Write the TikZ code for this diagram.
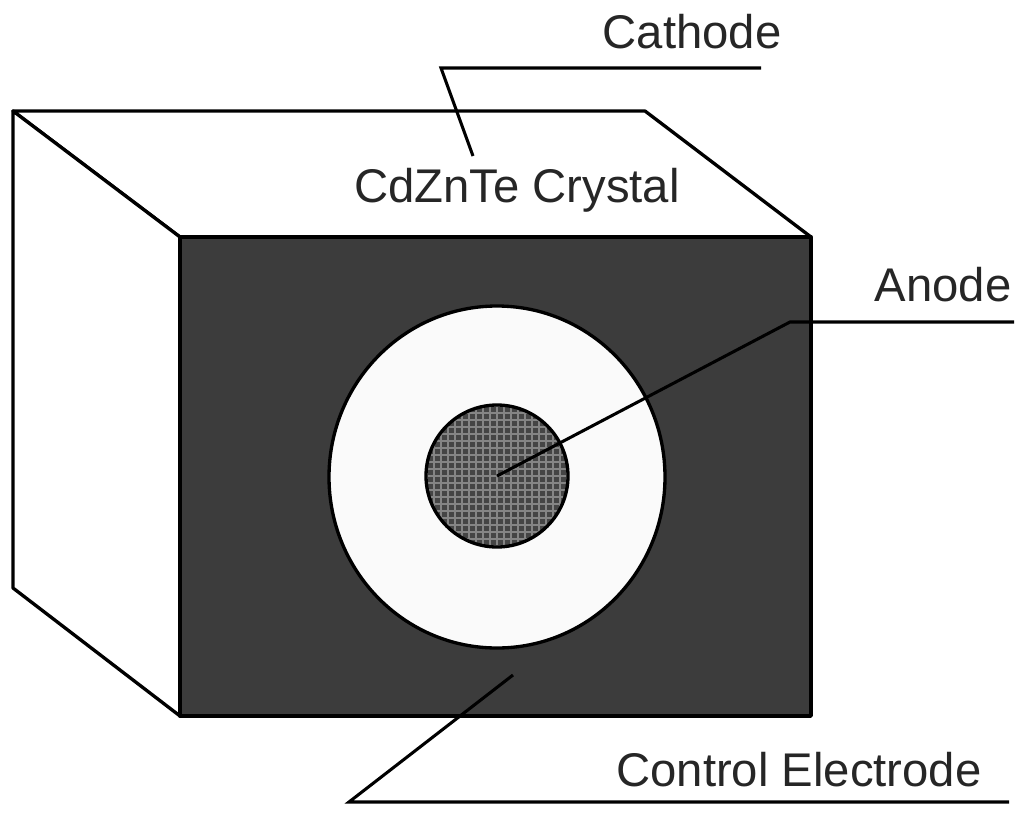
\documentclass[tikz,border=0pt]{standalone}
\usepackage{fontspec}
\setmainfont{Liberation Sans}
\usetikzlibrary{shapes.geometric}
\definecolor{darkface}{HTML}{3C3C3C}
\definecolor{ringface}{HTML}{FAFAFA}
\definecolor{anodeface}{HTML}{454545}
\definecolor{anodegrid}{HTML}{858585}
\tikzset{
  px/.style={x=0.0264cm,y=-0.0264cm},
  edge/.style={draw=black,line width=2.5pt,line join=round},
  leader/.style={draw=black,line width=2.3pt,line join=miter},
  lab/.style={font=\fontsize{35.5}{37}\selectfont,text=black!85,inner sep=0pt,anchor=center}
}
\begin{document}
\begin{tikzpicture}[px]
\useasboundingbox (0,0) rectangle (1024,815);
\fill[white] (0,0) rectangle (1024,815);
\coordinate (tl) at (13,111);
\coordinate (tr) at (645,111);
\coordinate (fl) at (180,237);
\coordinate (fr) at (811,237);
\coordinate (bl) at (180,716);
\coordinate (br) at (811,716);
\coordinate (ll) at (13,588);
\draw[edge,fill=white] (tl) -- (tr) -- (fr) -- (fl) -- cycle;
\draw[edge,fill=white] (tl) -- (fl) -- (bl) -- (ll) -- cycle;
\draw[edge,fill=darkface] (fl) rectangle (br);
\node[ellipse,draw=black,line width=2.5pt,fill=ringface,minimum width=336*0.0264cm,minimum height=342*0.0264cm,inner sep=0pt] (ring) at (497,477) {};
\node[circle,draw=none,fill=anodeface,minimum size=142*0.0264cm,inner sep=0pt] (anode) at (497,476) {};
\begin{scope}
\clip (497,476) circle[radius=71];
\foreach \k in {-10,...,10}{
  \draw[anodegrid,line width=0.8pt] (497+7*\k,400) -- (497+7*\k,554);
  \draw[anodegrid,line width=0.8pt] (420,476+7*\k) -- (574,476+7*\k);
}
\end{scope}
\draw[draw=black,line width=2.5pt] (497,476) circle[radius=71];
\node[lab] (cathode) at (692,32) {Cathode};
\node[lab] (crystal) at (517,190) {CdZnTe Crystal};
\node[lab] (anodelab) at (943,285) {Anode};
\node[lab] (control) at (799,770) {Control Electrode};
\coordinate (c1) at (761,68);
\coordinate (c2) at (441,68);
\coordinate (c3) at (473,156);
\draw[leader] (c1) -- (c2) -- (c3);
\coordinate (a1) at (1014,322);
\coordinate (a2) at (790,322);
\draw[leader] (a1) -- (a2) -- (anode.center);
\coordinate (e1) at (1009,802);
\coordinate (e2) at (349,802);
\coordinate (e3) at (513,675);
\draw[leader] (e1) -- (e2) -- (e3);
\end{tikzpicture}
\end{document}
